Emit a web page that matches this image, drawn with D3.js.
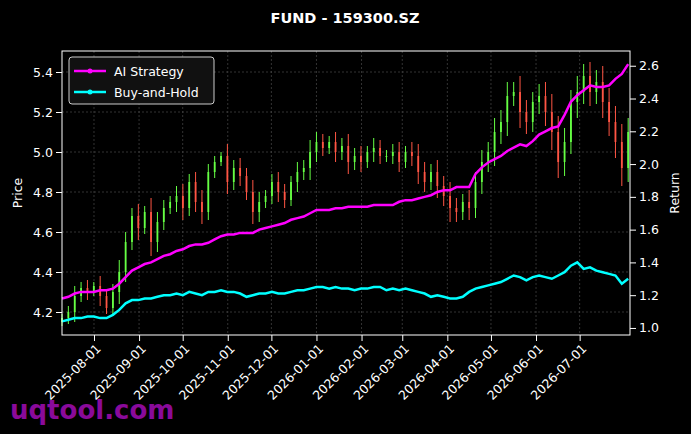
<!DOCTYPE html><html><head><meta charset="utf-8"><script src="https://cdn.jsdelivr.net/npm/d3@7"></script>
<style>body{margin:0;background:#000}text{font-family:"DejaVu Sans",sans-serif}</style></head><body><svg id="c" width="691" height="434"></svg><script>
const startDate="2025-07-10", stepHours=105;
const closes=[4.17,4.20,4.28,4.32,4.30,4.33,4.28,4.22,4.30,4.40,4.55,4.68,4.62,4.70,4.55,4.65,4.72,4.75,4.78,4.72,4.85,4.75,4.70,4.90,4.95,4.98,4.85,4.92,4.88,4.80,4.70,4.75,4.78,4.85,4.80,4.76,4.85,4.90,4.92,5.00,5.05,5.02,5.05,5.00,5.03,4.95,4.98,4.95,5.00,5.02,4.98,4.98,5.00,4.95,5.00,4.98,4.90,4.85,4.90,4.83,4.78,4.72,4.70,4.75,4.72,4.85,4.95,5.00,5.10,5.15,5.28,5.30,5.20,5.15,5.25,5.28,5.20,5.10,4.95,5.05,5.25,5.30,5.38,5.30,5.35,5.25,5.15,5.05,4.92,5.10];
const wicks=[0.02,0.03,0.05,0.03,0.04,0.02,0.05,0.03,0.04,0.06,0.05,0.04,0.06,0.03,0.07,0.05,0.04,0.03,0.05,0.06,0.04,0.05,0.06,0.04,0.03,0.02,0.06,0.04,0.05,0.04,0.06,0.05,0.03,0.04,0.05,0.04,0.03,0.05,0.04,0.06,0.05,0.04,0.03,0.05,0.04,0.06,0.04,0.05,0.03,0.05,0.04,0.03,0.04,0.05,0.03,0.05,0.06,0.05,0.04,0.06,0.05,0.07,0.05,0.04,0.06,0.05,0.06,0.05,0.07,0.06,0.07,0.05,0.08,0.06,0.05,0.06,0.07,0.09,0.08,0.07,0.06,0.08,0.06,0.07,0.06,0.08,0.07,0.08,0.09,0.07];
const strat=[1.18,1.19,1.21,1.22,1.22,1.22,1.23,1.23,1.24,1.27,1.31,1.35,1.37,1.39,1.40,1.42,1.44,1.45,1.47,1.48,1.50,1.51,1.51,1.52,1.54,1.56,1.57,1.57,1.58,1.58,1.58,1.60,1.61,1.62,1.63,1.64,1.66,1.67,1.68,1.70,1.72,1.72,1.72,1.73,1.73,1.74,1.74,1.74,1.74,1.75,1.75,1.75,1.75,1.77,1.78,1.78,1.79,1.80,1.81,1.83,1.84,1.84,1.86,1.86,1.86,1.94,1.98,2.01,2.03,2.05,2.08,2.10,2.12,2.11,2.14,2.18,2.20,2.22,2.23,2.30,2.38,2.42,2.45,2.48,2.47,2.47,2.48,2.52,2.55,2.61];
const bh=[1.04,1.05,1.06,1.06,1.07,1.07,1.06,1.06,1.08,1.11,1.15,1.17,1.17,1.18,1.18,1.19,1.20,1.20,1.21,1.20,1.22,1.21,1.20,1.22,1.22,1.23,1.22,1.22,1.21,1.19,1.20,1.21,1.21,1.22,1.21,1.21,1.22,1.23,1.23,1.24,1.25,1.25,1.24,1.25,1.24,1.24,1.23,1.24,1.24,1.25,1.25,1.23,1.24,1.23,1.24,1.23,1.22,1.21,1.19,1.20,1.19,1.18,1.18,1.19,1.22,1.24,1.25,1.26,1.27,1.28,1.30,1.32,1.31,1.29,1.31,1.32,1.31,1.30,1.32,1.34,1.38,1.40,1.36,1.37,1.35,1.34,1.33,1.32,1.27,1.30];
const tickLabels=["2025-08-01","2025-09-01","2025-10-01","2025-11-01","2025-12-01","2026-01-01","2026-02-01","2026-03-01","2026-04-01","2026-05-01","2026-06-01","2026-07-01"];
const priceTicks=[4.2,4.4,4.6,4.8,5.0,5.2,5.4], retTicks=[1.0,1.2,1.4,1.6,1.8,2.0,2.2,2.4,2.6];

const parse=d3.utcParse("%Y-%m-%d"), s0=parse(startDate);
const dates=closes.map((_,i)=>d3.utcHour.offset(s0,i*stepHours));
const L=62,R=630,T=51,B=335;
const svg=d3.select("#c");
svg.append("rect").attr("width",691).attr("height",434).attr("fill","#000");
const x=d3.scaleUtc().domain([parse("2025-07-10"),d3.utcHour.offset(s0,89*stepHours+30)]).range([L,R]);
const yP=d3.scaleLinear().domain([4.085,5.505]).range([B,T]);
const yR=d3.scaleLinear().domain([0.957,2.69]).range([B,T]);
const g=svg.append("g");
tickLabels.forEach(t=>g.append("line").attr("x1",x(parse(t))).attr("x2",x(parse(t))).attr("y1",T).attr("y2",B).attr("stroke","#555").attr("stroke-width",0.6).attr("stroke-dasharray","2,2"));
priceTicks.forEach(t=>g.append("line").attr("x1",L).attr("x2",R).attr("y1",yP(t)).attr("y2",yP(t)).attr("stroke","#555").attr("stroke-width",0.6).attr("stroke-dasharray","2,2"));
closes.forEach((c,i)=>{const o=i?closes[i-1]:c-0.02;const up=c>=o;const col=up?"#66ff44":"#ff5544";const xx=x(dates[i]);
 g.append("line").attr("x1",xx).attr("x2",xx).attr("y1",yP(Math.max(o,c)+wicks[i])).attr("y2",yP(Math.min(o,c)-wicks[i])).attr("stroke",col).attr("stroke-width",1);
 g.append("rect").attr("x",xx-0.9).attr("width",1.8).attr("y",yP(Math.max(o,c))).attr("height",Math.max(1,yP(Math.min(o,c))-yP(Math.max(o,c)))).attr("fill",col);});
const ln=d3.line().x((d,i)=>x(dates[i])).y(d=>yR(d));
g.append("path").attr("d",ln(strat)).attr("fill","none").attr("stroke","#ff00ff").attr("stroke-width",2.5);
g.append("path").attr("d",ln(bh)).attr("fill","none").attr("stroke","#00ffff").attr("stroke-width",2.5);
svg.append("rect").attr("x",L).attr("y",T).attr("width",R-L).attr("height",B-T).attr("fill","none").attr("stroke","#fff");
const ax=svg.append("g").attr("transform",`translate(0,${B})`).call(d3.axisBottom(x).tickValues(tickLabels.map(parse)).tickFormat(d3.utcFormat("%Y-%m-%d")).tickSizeOuter(0));
ax.selectAll("text").attr("transform","rotate(-45)").attr("text-anchor","end").attr("dx","-0.4em").attr("dy","0.5em");
const ayl=svg.append("g").attr("transform",`translate(${L},0)`).call(d3.axisLeft(yP).tickValues(priceTicks).tickFormat(d3.format(".1f")).tickSizeOuter(0));
const ayr=svg.append("g").attr("transform",`translate(${R},0)`).call(d3.axisRight(yR).tickValues(retTicks).tickFormat(d3.format(".1f")).tickSizeOuter(0));
[ax,ayl,ayr].forEach(a=>{a.select(".domain").remove();a.selectAll("line").attr("stroke","#fff");a.selectAll("text").attr("fill","#fff").attr("font-size",12.5);});
svg.append("text").attr("x",345).attr("y",23).attr("text-anchor","middle").attr("fill","#fff").attr("font-weight","bold").attr("font-size",14.5).text("FUND - 159300.SZ");
svg.append("text").attr("transform","translate(22,193) rotate(-90)").attr("text-anchor","middle").attr("fill","#fff").attr("font-size",12.5).text("Price");
svg.append("text").attr("transform","translate(679,193) rotate(-90)").attr("text-anchor","middle").attr("fill","#fff").attr("font-size",12.5).text("Return");
const lg=svg.append("g");
lg.append("rect").attr("x",69).attr("y",57).attr("width",145).attr("height",47).attr("rx",3).attr("fill","#111").attr("stroke","#ccc");
[["AI Strategy","#ff00ff"],["Buy-and-Hold","#00ffff"]].forEach(([t,c],i)=>{const yy=71+i*21;
 lg.append("line").attr("x1",74).attr("x2",106).attr("y1",yy).attr("y2",yy).attr("stroke",c).attr("stroke-width",2.5);
 lg.append("circle").attr("cx",90).attr("cy",yy).attr("r",2.5).attr("fill",c);
 lg.append("text").attr("x",114).attr("y",yy+4.5).attr("fill","#fff").attr("font-size",12.5).text(t);});
svg.append("text").attr("x",10).attr("y",419).attr("fill","#8a0a9a").attr("font-weight","bold").attr("font-size",26).text("uqtool.com");
</script></body></html>
